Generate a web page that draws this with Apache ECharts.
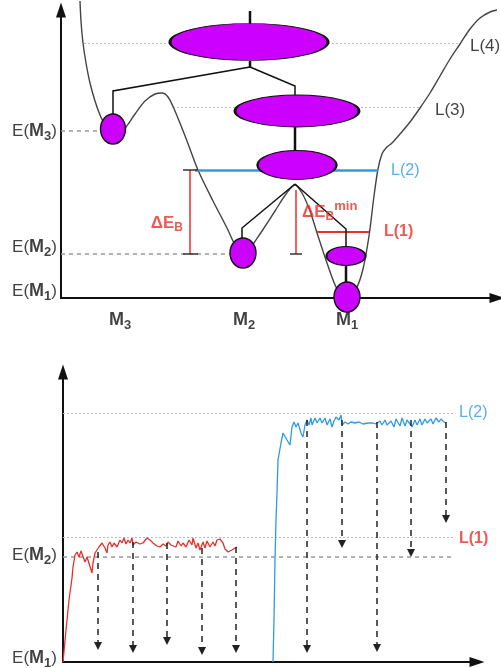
<!DOCTYPE html>
<html>
<head>
<meta charset="utf-8">
<script src="https://cdn.jsdelivr.net/npm/echarts@6/dist/echarts.min.js"></script>
<style>
  html, body { margin: 0; background: #fff; }
  #chart { width: 501px; height: 668px; }
</style>
</head>
<body>
<div id="chart"></div>
<script>
// ---- top panel: energy landscape (x = config. coordinate, e = energy) ----
const landscape = [
  [19, 297], [20, 277], [22, 255], [25, 235], [29, 215], [34, 197], [39, 183], [44, 173],
  [49, 167], [57, 164], [65, 171], [74, 184], [84, 197], [94, 204], [101, 205], [107, 201],
  [114, 187], [126, 157], [137, 128], [152, 97], [166, 70], [172, 57], [177, 48], [182, 44],
  [188, 46], [191, 52], [201, 67], [214, 87], [225, 104], [234, 113], [241, 105], [249, 87],
  [257, 62], [266, 35], [276, 9], [285, 0], [295, 9], [302, 29], [308, 62], [313, 102],
  [317, 129], [321, 144], [325, 150], [331, 155], [339, 164], [349, 176], [359, 190],
  [369, 205], [379, 222], [389, 239], [399, 254], [409, 269], [419, 280], [429, 286], [436, 288]
];
// minima / lumped states (centre x, energy)
const stateX = [188, 236, 236, 285, 52, 182, 286];
const stateE = [256, 187, 133, 42, 169, 45, 1];
// tree connections between states
const treeLinks = [
  [[189, 287], [189, 274]],
  [[189, 237], [189, 231]],
  [[189, 231], [52, 207], [52, 184]],
  [[189, 231], [234, 212], [234, 203]],
  [[234, 171], [234, 147]],
  [[234, 114], [181, 70], [181, 60]],
  [[234, 114], [285, 69], [285, 52]],
  [[285, 33], [285, 15]]
];
const levelE = { M1: 0, M2: 44, M3: 167, L1: 66, L2: 128, L3: 191, L4: 255 };
const barrierB = { x: 129, top: 128, bottom: 44 };
const barrierMin = { x: 235, top: 108, bottom: 44 };

// ---- bottom panel: energy vs time ----
const redTrace = [
  [0, 0], [3, 32], [6, 62], [9, 84], [10, 95], [12, 107], [14, 110], [16, 105], [18, 111],
  [20, 109], [22, 100], [24, 105], [26, 104], [29, 89], [30, 99], [32, 109], [34, 110],
  [36, 115], [39, 119], [40, 120], [42, 114], [44, 109], [45, 117], [47, 120], [49, 115],
  [51, 119], [54, 115], [57, 122], [59, 119], [61, 124], [63, 118], [65, 122], [67, 119],
  [69, 124], [70, 117], [73, 120], [77, 118], [80, 119], [84, 124], [87, 122], [90, 119],
  [94, 116], [97, 115], [100, 118], [103, 116], [105, 120], [108, 117], [110, 119], [113, 115],
  [115, 121], [118, 116], [120, 119], [123, 115], [126, 122], [129, 117], [130, 124], [133, 114],
  [135, 119], [137, 112], [140, 120], [142, 114], [144, 121], [147, 115], [150, 120], [152, 116],
  [154, 122], [157, 123], [160, 119], [162, 113], [165, 110], [169, 112], [172, 114], [174, 115]
];
const blueTrace = [
  [210, 0], [211, 42], [212, 102], [213, 142], [214, 169], [215, 202], [218, 219], [220, 229],
  [222, 230], [224, 222], [227, 217], [229, 235], [231, 240], [233, 235], [235, 239], [237, 237],
  [238, 229], [240, 225], [242, 237], [244, 242], [246, 237], [248, 244], [249, 237], [252, 244],
  [254, 239], [257, 244], [259, 239], [262, 244], [264, 237], [267, 243], [269, 235], [271, 241],
  [273, 245], [276, 242], [278, 247], [279, 237], [282, 240], [285, 238], [288, 240], [292, 239],
  [296, 240], [300, 238], [305, 239], [310, 239], [313, 238], [317, 241], [319, 237], [322, 242],
  [324, 237], [328, 241], [331, 235], [333, 243], [337, 236], [339, 244], [342, 236], [344, 242],
  [347, 238], [349, 235], [352, 242], [354, 237], [357, 243], [359, 237], [362, 243], [364, 239],
  [368, 243], [370, 238], [373, 244], [376, 240], [378, 243], [381, 240], [383, 239]
];
const redDropX = [35, 70, 104, 139, 173];
const redDropTop = [110, 120, 119, 114, 115];
const redDropTip = [12, 9, 17, 7, 9];
const blueDropX = [244, 279, 314, 348, 383];
const blueDropTop = [242, 242, 240, 242, 240];
const blueDropTip = [9, 114, 10, 105, 139];
const levelB = { M1: 0, M2: 105, L1: 125, L2: 249 };

const FONT = 'Liberation Sans, Arial, sans-serif';
const PURPLE = '#cc00ff';
const BLUE = '#2e9be4';
const RED = '#e8302a';

const rich = {
  n: { fontSize: 17, color: '#111', fontFamily: FONT },
  b: { fontSize: 18, fontWeight: 'bold', color: '#111', fontFamily: FONT },
  s: { fontSize: 13, fontWeight: 'bold', color: '#111', fontFamily: FONT, padding: [10, 0, 0, 0] },
  bl: { fontSize: 16, color: BLUE, fontFamily: FONT },
  rd: { fontSize: 16, fontWeight: 'bold', color: RED, fontFamily: FONT },
  r: { fontSize: 17, fontWeight: 'bold', color: RED, fontFamily: FONT },
  rs: { fontSize: 12, fontWeight: 'bold', color: RED, fontFamily: FONT, padding: [10, 0, 0, 0] },
  rp: { fontSize: 13, fontWeight: 'bold', color: RED, fontFamily: FONT, padding: [0, 0, 12, 0] }
};
const eLabel = m => '{n|E(}{b|M}{s|' + m + '}{n|)}';

const topLabels = [
  [eLabel(3), -4, 167, 'right'],
  [eLabel(2), -4, 51, 'right'],
  [eLabel(1), -4, 7, 'right'],
  ['{b|M}{s|3}', 59, -22, 'center'],
  ['{b|M}{s|2}', 183, -22, 'center'],
  ['{b|M}{s|1}', 286, -22, 'center'],
  ['{n|L(4)}', 409, 252, 'left'],
  ['{n|L(3)}', 374, 188, 'left'],
  ['{bl|L(2)}', 330, 127, 'left'],
  ['{rd|L(1)}', 323, 66, 'left'],
  ['{r|ΔE}{rs|B}', 122, 75, 'right'],
  ['{r|ΔE}{rs|B}{rp|min}', 241, 86, 'left']
];
const bottomLabels = [
  [eLabel(2), -6, 107, 'right'],
  [eLabel(1), -6, 4, 'right'],
  ['{bl|L(2)}', 396, 249, 'left'],
  ['{rd|L(1)}', 396, 123, 'left']
];

const axisStyle = (max) => ({
  type: 'value', min: 0, max: max,
  axisLine: { show: true, onZero: false, symbol: ['none', 'triangle'], symbolSize: [10, 15],
    lineStyle: { color: '#111', width: 2 } },
  axisTick: { show: false }, axisLabel: { show: false }, splitLine: { show: false }
});

function seg(a, b, style) { return { coords: [a, b], lineStyle: Object.assign({ opacity: 1 }, style) }; }
const dotted = { color: '#bbb', width: 1, type: [2, 2] };
const dashed = { color: '#999', width: 1.5, type: [4, 4] };

function labelSeries(list, gi) {
  return {
    type: 'scatter', xAxisIndex: gi, yAxisIndex: gi, symbolSize: 0, silent: true, clip: false, z: 10,
    data: list.map(d => ({
      value: [d[1], d[2]],
      label: { show: true, position: 'inside', align: d[3], verticalAlign: 'middle', formatter: d[0], rich: rich }
    }))
  };
}

const chart = echarts.init(document.getElementById('chart'));
chart.setOption({
  animation: false,
  grid: [
    { left: 61, top: 10, width: 436, height: 288 },
    { left: 63, top: 372, width: 414, height: 290 }
  ],
  xAxis: [Object.assign(axisStyle(436), { gridIndex: 0 }), Object.assign(axisStyle(414), { gridIndex: 1 })],
  yAxis: [Object.assign(axisStyle(288), { gridIndex: 0 }), Object.assign(axisStyle(290), { gridIndex: 1 })],
  series: [
    // top: reference levels
    {
      type: 'lines', coordinateSystem: 'cartesian2d', xAxisIndex: 0, yAxisIndex: 0, z: 1, silent: true,
      data: [
        seg([23, levelE.L4], [399, levelE.L4], dotted),
        seg([112, levelE.L3], [359, levelE.L3], dotted),
        seg([0, levelE.M3], [39, levelE.M3], dashed),
        seg([0, levelE.M2], [171, levelE.M2], dashed)
      ]
    },
    {
      type: 'line', xAxisIndex: 0, yAxisIndex: 0, data: landscape, showSymbol: false, clip: false,
      smooth: 0.3, z: 2, silent: true, lineStyle: { color: '#444', width: 1.4 }
    },
    {
      type: 'lines', coordinateSystem: 'cartesian2d', xAxisIndex: 0, yAxisIndex: 0, z: 3, silent: true,
      data: [
        seg([134, levelE.L2], [317, levelE.L2], { color: BLUE, width: 2.5 }),
        seg([256, levelE.L1], [308, levelE.L1], { color: RED, width: 2 }),
        seg([barrierB.x, barrierB.top], [barrierB.x, barrierB.bottom], { color: RED, width: 1.5 }),
        seg([barrierB.x - 7, barrierB.top], [barrierB.x + 8, barrierB.top], { color: '#333', width: 1.5 }),
        seg([barrierB.x - 7, barrierB.bottom], [barrierB.x + 8, barrierB.bottom], { color: '#333', width: 1.5 }),
        seg([barrierMin.x, barrierMin.top], [barrierMin.x, barrierMin.bottom], { color: RED, width: 1.5 }),
        seg([barrierMin.x - 6, barrierMin.bottom], [barrierMin.x + 6, barrierMin.bottom], { color: '#333', width: 1.5 })
      ]
    },
    {
      type: 'lines', coordinateSystem: 'cartesian2d', xAxisIndex: 0, yAxisIndex: 0, z: 4, silent: true,
      polyline: true,
      data: treeLinks.map(c => ({ coords: c, lineStyle: { color: '#111', opacity: 1, width: c.length === 2 ? 2.5 : 1.5 } }))
    },
    {
      type: 'scatter', xAxisIndex: 0, yAxisIndex: 0, z: 5, silent: true, clip: false,
      symbol: 'circle',
      data: stateX.map((x, i) => ({
        value: [x, stateE[i]],
        symbolSize: [[158, 37], [124, 32], [79, 29], [39, 19], [25, 30], [26, 30], [26, 30]][i]
      })),
      itemStyle: { color: PURPLE, borderColor: '#111', borderWidth: 1.5, opacity: 1 }
    },
    labelSeries(topLabels, 0),

    // bottom panel
    {
      type: 'lines', coordinateSystem: 'cartesian2d', xAxisIndex: 1, yAxisIndex: 1, z: 1, silent: true,
      data: [
        seg([0, levelB.L2], [390, levelB.L2], dotted),
        seg([0, levelB.L1], [390, levelB.L1], dotted),
        seg([0, levelB.M2], [390, levelB.M2], dashed)
      ]
    },
    {
      type: 'lines', coordinateSystem: 'cartesian2d', xAxisIndex: 1, yAxisIndex: 1, z: 3, silent: true,
      symbol: ['none', 'triangle'], symbolSize: 8,
      lineStyle: { color: '#222', width: 1.5, type: [6, 5], opacity: 1 },
      data: redDropX.map((x, i) => ({ coords: [[x, redDropTop[i]], [x, redDropTip[i] + 4]] }))
        .concat(blueDropX.map((x, i) => ({ coords: [[x, blueDropTop[i]], [x, blueDropTip[i] + 4]] })))
    },
    {
      type: 'line', xAxisIndex: 1, yAxisIndex: 1, data: redTrace, showSymbol: false, z: 2, silent: true,
      lineStyle: { color: RED, width: 1.3 }
    },
    {
      type: 'line', xAxisIndex: 1, yAxisIndex: 1, data: blueTrace, showSymbol: false, z: 2, silent: true,
      lineStyle: { color: BLUE, width: 1.3 }
    },
    labelSeries(bottomLabels, 1)
  ]
});
</script>
</body>
</html>
